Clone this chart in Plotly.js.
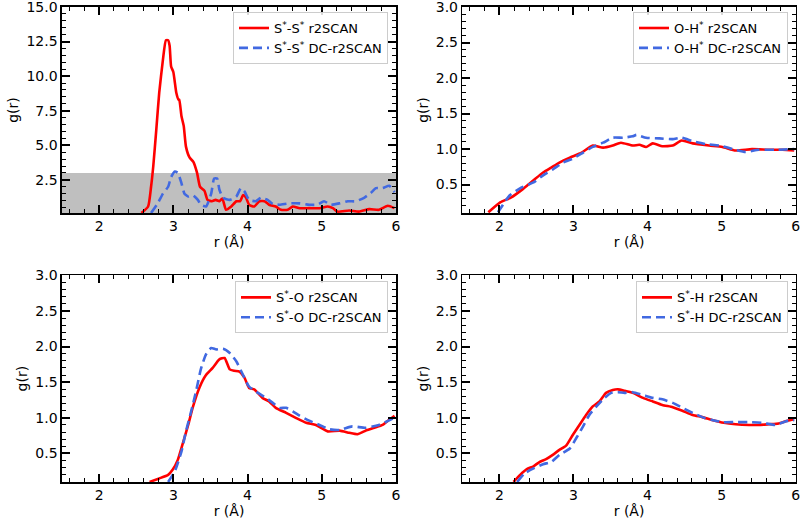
<!DOCTYPE html>
<html>
<head>
<meta charset="utf-8">
<script src="https://cdn.plot.ly/plotly-3.0.1.min.js"></script>
<style>html,body{margin:0;padding:0;background:#fff;} #chart{width:800px;height:524px;}</style>
</head>
<body>
<div id="chart"></div>
<script>
// ---------- Data ----------
// Panel 1: S*-S*
var r_SS_r2 = [2.57,2.66,2.70,2.73,2.77,2.81,2.86,2.90,2.93,2.95,2.97,3.00,3.04,3.07,3.08,3.11,3.14,3.17,3.22,3.27,3.32,3.36,3.42,3.46,3.52,3.57,3.62,3.66,3.71,3.78,3.85,3.90,3.94,3.98,4.02,4.09,4.16,4.23,4.29,4.38,4.45,4.54,4.61,4.70,4.83,4.97,5.08,5.15,5.21,5.37,5.50,5.64,5.77,5.89,5.98];
var g_SS_r2 = [0.10,0.57,2.0,3.5,6.1,8.8,11.2,12.6,12.6,12.2,10.7,10.3,8.8,8.3,8.3,7.1,6.4,4.9,4.1,3.8,3.0,2.0,1.7,1.05,0.95,1.05,0.95,1.15,0.33,0.57,0.95,0.95,1.4,1.2,0.7,0.57,0.95,0.95,0.7,0.57,0.33,0.33,0.57,0.45,0.45,0.45,0.57,0.45,0.2,0.28,0.2,0.38,0.33,0.62,0.45];
var r_SS_dc = [2.70,2.79,2.86,2.93,2.97,3.02,3.06,3.11,3.15,3.20,3.26,3.33,3.37,3.44,3.51,3.55,3.59,3.62,3.67,3.76,3.85,3.91,3.96,4.02,4.11,4.18,4.27,4.34,4.43,4.56,4.70,4.83,4.94,5.03,5.12,5.24,5.35,5.46,5.57,5.66,5.73,5.82,5.91,5.98];
var g_SS_dc = [0.10,0.8,1.5,2.0,2.7,3.1,3.0,2.25,1.5,1.3,1.4,1.05,0.7,0.57,1.5,2.6,2.6,1.8,1.2,1.05,1.3,1.9,1.65,1.05,0.95,1.2,1.05,0.75,0.7,0.8,0.8,0.7,0.7,0.95,0.7,0.8,0.95,0.95,1.2,1.55,1.9,1.9,2.07,1.6];
// Panel 2: O-H*
var r_OH_r2 = [1.85,2.01,2.16,2.32,2.46,2.59,2.70,2.81,2.95,3.11,3.26,3.40,3.53,3.64,3.80,3.89,3.98,4.07,4.20,4.34,4.46,4.61,4.83,5.01,5.19,5.41,5.64,5.82,5.98];
var g_OH_r2 = [0.11,0.25,0.32,0.44,0.56,0.67,0.74,0.81,0.88,0.95,1.05,1.02,1.05,1.09,1.05,1.06,1.03,1.08,1.04,1.05,1.12,1.08,1.05,1.03,0.98,1.0,0.99,0.99,0.98];
var r_OH_dc = [1.98,2.14,2.30,2.46,2.59,2.73,2.86,3.00,3.13,3.26,3.40,3.53,3.67,3.80,3.85,3.98,4.16,4.34,4.46,4.61,4.79,4.97,5.19,5.32,5.50,5.73,5.98];
var g_OH_dc = [0.11,0.35,0.46,0.53,0.63,0.72,0.81,0.87,0.95,1.03,1.09,1.16,1.16,1.18,1.20,1.16,1.15,1.14,1.16,1.11,1.07,1.05,0.99,0.96,0.99,0.99,1.0];
// Panel 3: S*-O
var r_SO_r2 = [2.68,2.81,2.93,2.99,3.06,3.13,3.20,3.26,3.35,3.44,3.53,3.62,3.69,3.76,3.82,3.89,3.96,4.02,4.09,4.20,4.29,4.38,4.52,4.65,4.79,4.92,5.08,5.24,5.37,5.48,5.59,5.71,5.82,5.89,5.98];
var g_SO_r2 = [0.10,0.15,0.20,0.27,0.41,0.65,0.90,1.14,1.42,1.60,1.70,1.82,1.84,1.68,1.66,1.65,1.56,1.42,1.40,1.28,1.23,1.14,1.07,1.00,0.93,0.90,0.81,0.82,0.79,0.77,0.82,0.86,0.90,0.96,1.03];
var r_SO_dc = [2.93,3.02,3.11,3.17,3.24,3.31,3.37,3.44,3.51,3.58,3.67,3.76,3.85,3.94,4.02,4.14,4.25,4.34,4.43,4.52,4.61,4.70,4.83,4.97,5.10,5.24,5.41,5.59,5.77,5.98];
var g_SO_dc = [0.10,0.25,0.53,0.81,1.09,1.39,1.68,1.89,1.98,1.96,1.97,1.91,1.79,1.60,1.44,1.35,1.28,1.21,1.14,1.14,1.09,1.03,0.96,0.90,0.84,0.83,0.88,0.86,0.90,1.0];
// Panel 4: S*-H
var r_SH_r2 = [2.19,2.28,2.37,2.46,2.54,2.63,2.72,2.81,2.90,2.99,3.08,3.17,3.26,3.35,3.44,3.53,3.60,3.69,3.80,3.94,4.07,4.20,4.34,4.47,4.61,4.74,4.87,5.03,5.19,5.37,5.50,5.64,5.77,5.89,5.98];
var g_SH_r2 = [0.10,0.20,0.28,0.32,0.38,0.42,0.48,0.55,0.61,0.76,0.90,1.04,1.16,1.23,1.35,1.39,1.40,1.38,1.35,1.28,1.23,1.18,1.15,1.10,1.04,1.01,0.97,0.93,0.91,0.90,0.90,0.91,0.92,0.96,0.98];
var r_SH_dc = [2.24,2.34,2.46,2.59,2.70,2.81,2.95,3.04,3.13,3.22,3.31,3.42,3.51,3.60,3.69,3.80,3.94,4.07,4.20,4.34,4.47,4.61,4.74,4.87,5.01,5.19,5.37,5.55,5.73,5.86,5.98];
var g_SH_dc = [0.10,0.22,0.29,0.35,0.38,0.48,0.57,0.72,0.88,1.05,1.16,1.28,1.35,1.36,1.35,1.36,1.32,1.28,1.26,1.21,1.14,1.07,1.01,0.97,0.94,0.94,0.94,0.93,0.90,0.95,0.97];

// Legend labels
var labels = [
  ["S<sup>*</sup>-S<sup>*</sup> r2SCAN", "S<sup>*</sup>-S<sup>*</sup> DC-r2SCAN"],
  ["O-H<sup>*</sup> r2SCAN", "O-H<sup>*</sup> DC-r2SCAN"],
  ["S<sup>*</sup>-O r2SCAN", "S<sup>*</sup>-O DC-r2SCAN"],
  ["S<sup>*</sup>-H r2SCAN", "S<sup>*</sup>-H DC-r2SCAN"]
];
var xTickVals = [2, 3, 4, 5, 6];
var xTickText = ['2', '3', '4', '5', '6'];
// shaded band in panel 1 (g range)
var shadeBand = [0, 3.0];
var xRange = [1.5, 6];
var yRangeTop = [0.1, 15];
var yRangeOther = [0.1, 3.0];

// ---------- Build ----------
var series = [
  [r_SS_r2, g_SS_r2, r_SS_dc, g_SS_dc],
  [r_OH_r2, g_OH_r2, r_OH_dc, g_OH_dc],
  [r_SO_r2, g_SO_r2, r_SO_dc, g_SO_dc],
  [r_SH_r2, g_SH_r2, r_SH_dc, g_SH_dc]
];
var axSuffix = ['', '2', '3', '4'];
var mirSuffix = ['5', '6', '7', '8'];
var legNames = ['legend', 'legend2', 'legend3', 'legend4'];
var traces = [];
series.forEach(function (s, i) {
  var xa = 'x' + axSuffix[i], ya = 'y' + axSuffix[i];
  traces.push({x: s[0], y: s[1], xaxis: xa, yaxis: ya, mode: 'lines', name: labels[i][0],
    line: {color: '#ff0000', width: 2.6, shape: 'spline', smoothing: 0.5}, legend: legNames[i]});
  traces.push({x: s[2], y: s[3], xaxis: xa, yaxis: ya, mode: 'lines', name: labels[i][1],
    line: {color: '#4169e1', width: 2.6, dash: '9px,5px', shape: 'spline', smoothing: 0.5}, legend: legNames[i]});
  // invisible copy bound to the mirror (top/right) axes so their tick marks are drawn
  traces.push({x: s[0], y: s[1], xaxis: 'x' + mirSuffix[i], yaxis: 'y' + mirSuffix[i], mode: 'lines',
    line: {width: 0}, opacity: 0, showlegend: false, hoverinfo: 'skip'});
});

var font = {family: 'DejaVu Sans, sans-serif', size: 14, color: '#000'};
var tickStyle = {ticks: 'inside', ticklen: 8, tickwidth: 2, tickcolor: '#000'};
function minorX() { return {dtick: 0.2, tick0: 0, ticks: 'inside', ticklen: 4, tickwidth: 1, tickcolor: '#000', showgrid: false}; }
function minorY(d) { return {dtick: d, tick0: 0, ticks: 'inside', ticklen: 4, tickwidth: 1, tickcolor: '#000', showgrid: false}; }
function xaxis(domain, anchor) {
  return Object.assign({domain: domain, anchor: anchor, range: xRange, tickmode: 'array', tickvals: xTickVals, ticktext: xTickText,
    showline: true, linecolor: '#000', linewidth: 1.6, mirror: 'allticks', showgrid: false, zeroline: false, automargin: false,
    ticklabeloverflow: 'allow', minor: minorX(),
    tickfont: font, title: {text: 'r (Å)', font: font, standoff: 2}}, tickStyle);
}
function xaxisTop(over, anchor) {
  return Object.assign({overlaying: over, side: 'top', anchor: anchor, range: xRange, tickmode: 'array', tickvals: xTickVals,
    showticklabels: false, showline: false, showgrid: false, zeroline: false, automargin: false, minor: minorX()}, tickStyle);
}
function yaxis(domain, anchor, range, dtick, mdtick) {
  return Object.assign({domain: domain, anchor: anchor, range: range, dtick: dtick, tick0: 0, tickformat: '.1f',
    showline: true, linecolor: '#000', linewidth: 1.6, mirror: 'allticks', showgrid: false, zeroline: false, automargin: false,
    ticklabeloverflow: 'allow', minor: minorY(mdtick),
    tickfont: font, title: {text: 'g(r)', font: font, standoff: 4}}, tickStyle);
}
function yaxisRight(over, anchor, range, dtick, mdtick) {
  return Object.assign({overlaying: over, side: 'right', anchor: anchor, range: range, dtick: dtick, tick0: 0,
    showticklabels: false, showline: false, showgrid: false, zeroline: false, automargin: false, minor: minorY(mdtick)}, tickStyle);
}
var dL = [0.0775, 0.495], dR = [0.578, 0.9946];
var dT = [0.5935, 0.9866], dB = [0.0802, 0.4746];
function legend(x, y) {
  return {x: x, y: y, xanchor: 'right', yanchor: 'top', xref: 'paper', yref: 'paper',
    bgcolor: 'rgba(255,255,255,0.85)', bordercolor: '#cccccc', borderwidth: 1,
    font: {family: 'DejaVu Sans, sans-serif', size: 13, color: '#000'}, tracegroupgap: 0, itemwidth: 30};
}
var layout = {
  width: 800, height: 524, margin: {l: 0, r: 0, t: 0, b: 0},
  paper_bgcolor: '#fff', plot_bgcolor: '#fff', font: font, showlegend: true,
  xaxis: xaxis(dL, 'y'), yaxis: yaxis(dT, 'x', yRangeTop, 2.5, 0.5),
  xaxis2: xaxis(dR, 'y2'), yaxis2: yaxis(dT, 'x2', yRangeOther, 0.5, 0.1),
  xaxis3: xaxis(dL, 'y3'), yaxis3: yaxis(dB, 'x3', yRangeOther, 0.5, 0.1),
  xaxis4: xaxis(dR, 'y4'), yaxis4: yaxis(dB, 'x4', yRangeOther, 0.5, 0.1),
  xaxis5: xaxisTop('x', 'y'), yaxis5: yaxisRight('y', 'x', yRangeTop, 2.5, 0.5),
  xaxis6: xaxisTop('x2', 'y2'), yaxis6: yaxisRight('y2', 'x2', yRangeOther, 0.5, 0.1),
  xaxis7: xaxisTop('x3', 'y3'), yaxis7: yaxisRight('y3', 'x3', yRangeOther, 0.5, 0.1),
  xaxis8: xaxisTop('x4', 'y4'), yaxis8: yaxisRight('y4', 'x4', yRangeOther, 0.5, 0.1),
  legend: legend(0.485, 0.977), legend2: legend(0.985, 0.977),
  legend3: legend(0.485, 0.463), legend4: legend(0.985, 0.463),
  shapes: [{type: 'rect', xref: 'x domain', yref: 'y', x0: 0, x1: 1, y0: shadeBand[0], y1: shadeBand[1],
    fillcolor: '#bfbfbf', line: {width: 0}, layer: 'below'}]
};
Plotly.newPlot('chart', traces, layout, {staticPlot: true});
</script>
</body>
</html>
